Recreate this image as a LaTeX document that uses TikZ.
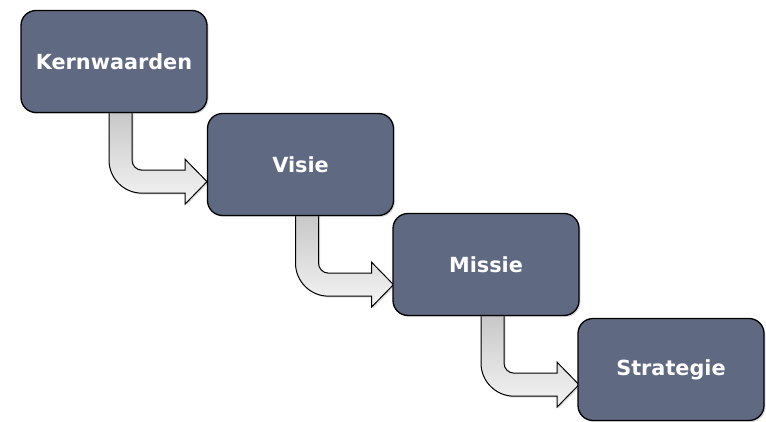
\documentclass[tikz,border=0pt]{standalone}
\usepackage{fontspec}
\setmainfont{DejaVu Sans}
\usetikzlibrary{shadows,backgrounds}
\definecolor{boxfill}{HTML}{5F6982}
\tikzset{
  stage/.style={draw=black, line width=1.3pt, fill=boxfill, rounded corners=15pt,
    minimum width=186pt, minimum height=102pt, text=white, inner sep=0pt,
    font=\fontsize{20.8}{24}\selectfont\bfseries,
    drop shadow={opacity=0.3, shadow xshift=1.5pt, shadow yshift=-1.5pt}},
  flow/.style={draw=black, line width=1pt, top color=black!22, bottom color=black!4,
    drop shadow={opacity=0.25, shadow xshift=1.5pt, shadow yshift=-1.5pt}},
  pics/bendarrow/.style={code={
    \path[flow] (-5,2) -- (-5,-47) .. controls (-5,-65.2) and (9.8,-80) .. (28,-80)
      -- (71,-80) -- (71,-91) -- (93,-68.5) -- (71,-46) -- (71,-57) -- (28,-57)
      .. controls (22.5,-57) and (18,-52.5) .. (18,-47) -- (18,2) -- cycle;
  }}
}
\begin{document}
\begin{tikzpicture}[x=1pt,y=1pt]
\useasboundingbox (0,0) rectangle (766,421);
\node[stage] (k) at (114,359.5) {Kernwaarden};
\node[stage] (v) at (300.5,256.5) {Visie};
\node[stage] (m) at (486,156.5) {Missie};
\node[stage] (s) at (671,51.5) {Strategie};
\begin{pgfonlayer}{background}
\pic (a1) at (k.south) {bendarrow};
\pic (a2) at (v.south) {bendarrow};
\pic (a3) at (m.south) {bendarrow};
\end{pgfonlayer}
\end{tikzpicture}
\end{document}
